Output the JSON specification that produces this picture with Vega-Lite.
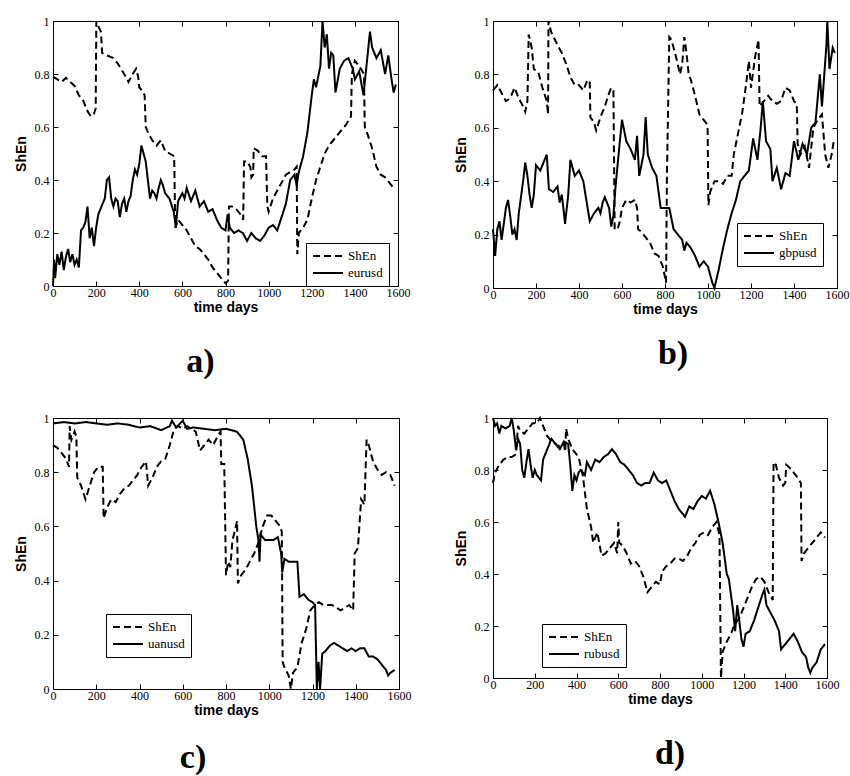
{
  "$schema": "https://vega.github.io/schema/vega-lite/v6.json",
  "background": "white",
  "padding": {"left": 13, "top": 14, "right": 0, "bottom": 0},
  "columns": 2,
  "bounds": "flush",
  "spacing": {"row": 130, "column": 94},
  "resolve": {"scale": {"strokeDash": "independent"}, "legend": {"strokeDash": "independent"}},
  "datasets": {
    "a": [
      {"x":0,"y":0.79,"s":"ShEn"},{"x":20,"y":0.78,"s":"ShEn"},{"x":40,"y":0.77,"s":"ShEn"},{"x":60,"y":0.785,"s":"ShEn"},{"x":80,"y":0.77,"s":"ShEn"},{"x":100,"y":0.755,"s":"ShEn"},{"x":120,"y":0.72,"s":"ShEn"},{"x":140,"y":0.7,"s":"ShEn"},{"x":160,"y":0.66,"s":"ShEn"},{"x":175,"y":0.64,"s":"ShEn"},{"x":190,"y":0.65,"s":"ShEn"},{"x":198,"y":0.67,"s":"ShEn"},{"x":201,"y":1.0,"s":"ShEn"},{"x":210,"y":0.98,"s":"ShEn"},{"x":222,"y":0.96,"s":"ShEn"},{"x":228,"y":0.88,"s":"ShEn"},{"x":250,"y":0.87,"s":"ShEn"},{"x":280,"y":0.86,"s":"ShEn"},{"x":300,"y":0.84,"s":"ShEn"},{"x":330,"y":0.8,"s":"ShEn"},{"x":350,"y":0.77,"s":"ShEn"},{"x":370,"y":0.8,"s":"ShEn"},{"x":385,"y":0.82,"s":"ShEn"},{"x":395,"y":0.79,"s":"ShEn"},{"x":400,"y":0.75,"s":"ShEn"},{"x":410,"y":0.74,"s":"ShEn"},{"x":425,"y":0.72,"s":"ShEn"},{"x":430,"y":0.6,"s":"ShEn"},{"x":440,"y":0.58,"s":"ShEn"},{"x":460,"y":0.55,"s":"ShEn"},{"x":480,"y":0.53,"s":"ShEn"},{"x":500,"y":0.55,"s":"ShEn"},{"x":510,"y":0.53,"s":"ShEn"},{"x":520,"y":0.51,"s":"ShEn"},{"x":540,"y":0.5,"s":"ShEn"},{"x":562,"y":0.49,"s":"ShEn"},{"x":567,"y":0.22,"s":"ShEn"},{"x":580,"y":0.25,"s":"ShEn"},{"x":600,"y":0.23,"s":"ShEn"},{"x":620,"y":0.21,"s":"ShEn"},{"x":640,"y":0.18,"s":"ShEn"},{"x":660,"y":0.15,"s":"ShEn"},{"x":680,"y":0.14,"s":"ShEn"},{"x":700,"y":0.12,"s":"ShEn"},{"x":720,"y":0.1,"s":"ShEn"},{"x":740,"y":0.07,"s":"ShEn"},{"x":760,"y":0.05,"s":"ShEn"},{"x":780,"y":0.03,"s":"ShEn"},{"x":800,"y":0.01,"s":"ShEn"},{"x":812,"y":0.02,"s":"ShEn"},{"x":816,"y":0.3,"s":"ShEn"},{"x":830,"y":0.3,"s":"ShEn"},{"x":850,"y":0.29,"s":"ShEn"},{"x":870,"y":0.27,"s":"ShEn"},{"x":882,"y":0.25,"s":"ShEn"},{"x":886,"y":0.47,"s":"ShEn"},{"x":900,"y":0.47,"s":"ShEn"},{"x":915,"y":0.45,"s":"ShEn"},{"x":920,"y":0.41,"s":"ShEn"},{"x":928,"y":0.42,"s":"ShEn"},{"x":931,"y":0.52,"s":"ShEn"},{"x":950,"y":0.51,"s":"ShEn"},{"x":970,"y":0.49,"s":"ShEn"},{"x":988,"y":0.49,"s":"ShEn"},{"x":994,"y":0.3,"s":"ShEn"},{"x":1000,"y":0.28,"s":"ShEn"},{"x":1020,"y":0.33,"s":"ShEn"},{"x":1040,"y":0.36,"s":"ShEn"},{"x":1060,"y":0.39,"s":"ShEn"},{"x":1080,"y":0.42,"s":"ShEn"},{"x":1100,"y":0.43,"s":"ShEn"},{"x":1120,"y":0.44,"s":"ShEn"},{"x":1130,"y":0.45,"s":"ShEn"},{"x":1133,"y":0.12,"s":"ShEn"},{"x":1140,"y":0.2,"s":"ShEn"},{"x":1160,"y":0.22,"s":"ShEn"},{"x":1180,"y":0.25,"s":"ShEn"},{"x":1200,"y":0.33,"s":"ShEn"},{"x":1220,"y":0.4,"s":"ShEn"},{"x":1240,"y":0.45,"s":"ShEn"},{"x":1260,"y":0.5,"s":"ShEn"},{"x":1280,"y":0.53,"s":"ShEn"},{"x":1300,"y":0.55,"s":"ShEn"},{"x":1320,"y":0.57,"s":"ShEn"},{"x":1340,"y":0.59,"s":"ShEn"},{"x":1360,"y":0.61,"s":"ShEn"},{"x":1382,"y":0.64,"s":"ShEn"},{"x":1386,"y":0.8,"s":"ShEn"},{"x":1400,"y":0.85,"s":"ShEn"},{"x":1420,"y":0.83,"s":"ShEn"},{"x":1442,"y":0.8,"s":"ShEn"},{"x":1446,"y":0.6,"s":"ShEn"},{"x":1460,"y":0.57,"s":"ShEn"},{"x":1480,"y":0.52,"s":"ShEn"},{"x":1500,"y":0.45,"s":"ShEn"},{"x":1520,"y":0.42,"s":"ShEn"},{"x":1540,"y":0.41,"s":"ShEn"},{"x":1560,"y":0.39,"s":"ShEn"},{"x":1580,"y":0.37,"s":"ShEn"},
      {"x":0,"y":0.0,"s":"eurusd"},{"x":5,"y":0.1,"s":"eurusd"},{"x":10,"y":0.03,"s":"eurusd"},{"x":20,"y":0.12,"s":"eurusd"},{"x":30,"y":0.08,"s":"eurusd"},{"x":40,"y":0.13,"s":"eurusd"},{"x":50,"y":0.06,"s":"eurusd"},{"x":60,"y":0.11,"s":"eurusd"},{"x":70,"y":0.14,"s":"eurusd"},{"x":80,"y":0.09,"s":"eurusd"},{"x":90,"y":0.12,"s":"eurusd"},{"x":100,"y":0.08,"s":"eurusd"},{"x":110,"y":0.1,"s":"eurusd"},{"x":120,"y":0.07,"s":"eurusd"},{"x":130,"y":0.21,"s":"eurusd"},{"x":140,"y":0.22,"s":"eurusd"},{"x":150,"y":0.24,"s":"eurusd"},{"x":160,"y":0.3,"s":"eurusd"},{"x":170,"y":0.18,"s":"eurusd"},{"x":180,"y":0.22,"s":"eurusd"},{"x":190,"y":0.15,"s":"eurusd"},{"x":200,"y":0.22,"s":"eurusd"},{"x":210,"y":0.27,"s":"eurusd"},{"x":220,"y":0.29,"s":"eurusd"},{"x":240,"y":0.33,"s":"eurusd"},{"x":250,"y":0.4,"s":"eurusd"},{"x":260,"y":0.41,"s":"eurusd"},{"x":270,"y":0.33,"s":"eurusd"},{"x":280,"y":0.3,"s":"eurusd"},{"x":290,"y":0.33,"s":"eurusd"},{"x":300,"y":0.32,"s":"eurusd"},{"x":310,"y":0.26,"s":"eurusd"},{"x":320,"y":0.31,"s":"eurusd"},{"x":330,"y":0.33,"s":"eurusd"},{"x":340,"y":0.28,"s":"eurusd"},{"x":350,"y":0.32,"s":"eurusd"},{"x":360,"y":0.34,"s":"eurusd"},{"x":370,"y":0.4,"s":"eurusd"},{"x":380,"y":0.44,"s":"eurusd"},{"x":390,"y":0.42,"s":"eurusd"},{"x":400,"y":0.46,"s":"eurusd"},{"x":410,"y":0.53,"s":"eurusd"},{"x":420,"y":0.5,"s":"eurusd"},{"x":430,"y":0.47,"s":"eurusd"},{"x":440,"y":0.4,"s":"eurusd"},{"x":450,"y":0.33,"s":"eurusd"},{"x":460,"y":0.36,"s":"eurusd"},{"x":470,"y":0.35,"s":"eurusd"},{"x":480,"y":0.33,"s":"eurusd"},{"x":490,"y":0.37,"s":"eurusd"},{"x":500,"y":0.4,"s":"eurusd"},{"x":510,"y":0.38,"s":"eurusd"},{"x":520,"y":0.35,"s":"eurusd"},{"x":540,"y":0.33,"s":"eurusd"},{"x":560,"y":0.28,"s":"eurusd"},{"x":570,"y":0.22,"s":"eurusd"},{"x":580,"y":0.32,"s":"eurusd"},{"x":600,"y":0.35,"s":"eurusd"},{"x":610,"y":0.33,"s":"eurusd"},{"x":620,"y":0.37,"s":"eurusd"},{"x":640,"y":0.32,"s":"eurusd"},{"x":650,"y":0.34,"s":"eurusd"},{"x":660,"y":0.36,"s":"eurusd"},{"x":680,"y":0.3,"s":"eurusd"},{"x":700,"y":0.32,"s":"eurusd"},{"x":720,"y":0.28,"s":"eurusd"},{"x":740,"y":0.29,"s":"eurusd"},{"x":760,"y":0.25,"s":"eurusd"},{"x":780,"y":0.22,"s":"eurusd"},{"x":800,"y":0.21,"s":"eurusd"},{"x":810,"y":0.27,"s":"eurusd"},{"x":820,"y":0.22,"s":"eurusd"},{"x":840,"y":0.2,"s":"eurusd"},{"x":860,"y":0.21,"s":"eurusd"},{"x":880,"y":0.2,"s":"eurusd"},{"x":900,"y":0.17,"s":"eurusd"},{"x":920,"y":0.2,"s":"eurusd"},{"x":940,"y":0.18,"s":"eurusd"},{"x":960,"y":0.17,"s":"eurusd"},{"x":980,"y":0.19,"s":"eurusd"},{"x":1000,"y":0.22,"s":"eurusd"},{"x":1020,"y":0.23,"s":"eurusd"},{"x":1040,"y":0.21,"s":"eurusd"},{"x":1060,"y":0.26,"s":"eurusd"},{"x":1080,"y":0.31,"s":"eurusd"},{"x":1100,"y":0.4,"s":"eurusd"},{"x":1120,"y":0.42,"s":"eurusd"},{"x":1130,"y":0.38,"s":"eurusd"},{"x":1140,"y":0.43,"s":"eurusd"},{"x":1160,"y":0.49,"s":"eurusd"},{"x":1180,"y":0.58,"s":"eurusd"},{"x":1200,"y":0.72,"s":"eurusd"},{"x":1210,"y":0.78,"s":"eurusd"},{"x":1220,"y":0.75,"s":"eurusd"},{"x":1240,"y":0.83,"s":"eurusd"},{"x":1250,"y":1.0,"s":"eurusd"},{"x":1260,"y":0.9,"s":"eurusd"},{"x":1270,"y":0.95,"s":"eurusd"},{"x":1280,"y":0.82,"s":"eurusd"},{"x":1290,"y":0.88,"s":"eurusd"},{"x":1300,"y":0.87,"s":"eurusd"},{"x":1310,"y":0.73,"s":"eurusd"},{"x":1330,"y":0.82,"s":"eurusd"},{"x":1350,"y":0.85,"s":"eurusd"},{"x":1370,"y":0.86,"s":"eurusd"},{"x":1390,"y":0.82,"s":"eurusd"},{"x":1400,"y":0.78,"s":"eurusd"},{"x":1420,"y":0.81,"s":"eurusd"},{"x":1440,"y":0.72,"s":"eurusd"},{"x":1460,"y":0.88,"s":"eurusd"},{"x":1470,"y":0.96,"s":"eurusd"},{"x":1480,"y":0.9,"s":"eurusd"},{"x":1500,"y":0.86,"s":"eurusd"},{"x":1520,"y":0.89,"s":"eurusd"},{"x":1540,"y":0.8,"s":"eurusd"},{"x":1555,"y":0.87,"s":"eurusd"},{"x":1570,"y":0.78,"s":"eurusd"},{"x":1580,"y":0.73,"s":"eurusd"},{"x":1590,"y":0.76,"s":"eurusd"}
    ],
    "b": [
      {"x":0,"y":0.74,"s":"ShEn"},{"x":20,"y":0.76,"s":"ShEn"},{"x":40,"y":0.73,"s":"ShEn"},{"x":60,"y":0.7,"s":"ShEn"},{"x":80,"y":0.71,"s":"ShEn"},{"x":100,"y":0.75,"s":"ShEn"},{"x":120,"y":0.71,"s":"ShEn"},{"x":140,"y":0.68,"s":"ShEn"},{"x":150,"y":0.66,"s":"ShEn"},{"x":160,"y":0.7,"s":"ShEn"},{"x":166,"y":0.95,"s":"ShEn"},{"x":180,"y":0.9,"s":"ShEn"},{"x":190,"y":0.82,"s":"ShEn"},{"x":210,"y":0.81,"s":"ShEn"},{"x":230,"y":0.75,"s":"ShEn"},{"x":250,"y":0.7,"s":"ShEn"},{"x":256,"y":0.65,"s":"ShEn"},{"x":258,"y":1.0,"s":"ShEn"},{"x":270,"y":0.96,"s":"ShEn"},{"x":300,"y":0.91,"s":"ShEn"},{"x":320,"y":0.88,"s":"ShEn"},{"x":340,"y":0.84,"s":"ShEn"},{"x":360,"y":0.79,"s":"ShEn"},{"x":380,"y":0.76,"s":"ShEn"},{"x":400,"y":0.76,"s":"ShEn"},{"x":420,"y":0.74,"s":"ShEn"},{"x":440,"y":0.78,"s":"ShEn"},{"x":450,"y":0.77,"s":"ShEn"},{"x":453,"y":0.64,"s":"ShEn"},{"x":470,"y":0.62,"s":"ShEn"},{"x":480,"y":0.59,"s":"ShEn"},{"x":500,"y":0.64,"s":"ShEn"},{"x":520,"y":0.68,"s":"ShEn"},{"x":540,"y":0.73,"s":"ShEn"},{"x":550,"y":0.75,"s":"ShEn"},{"x":560,"y":0.74,"s":"ShEn"},{"x":566,"y":0.22,"s":"ShEn"},{"x":580,"y":0.22,"s":"ShEn"},{"x":590,"y":0.25,"s":"ShEn"},{"x":600,"y":0.3,"s":"ShEn"},{"x":620,"y":0.33,"s":"ShEn"},{"x":640,"y":0.32,"s":"ShEn"},{"x":660,"y":0.33,"s":"ShEn"},{"x":670,"y":0.3,"s":"ShEn"},{"x":675,"y":0.22,"s":"ShEn"},{"x":690,"y":0.21,"s":"ShEn"},{"x":710,"y":0.19,"s":"ShEn"},{"x":730,"y":0.17,"s":"ShEn"},{"x":750,"y":0.13,"s":"ShEn"},{"x":770,"y":0.12,"s":"ShEn"},{"x":790,"y":0.08,"s":"ShEn"},{"x":805,"y":0.02,"s":"ShEn"},{"x":809,"y":0.42,"s":"ShEn"},{"x":820,"y":0.94,"s":"ShEn"},{"x":830,"y":0.93,"s":"ShEn"},{"x":850,"y":0.87,"s":"ShEn"},{"x":870,"y":0.8,"s":"ShEn"},{"x":880,"y":0.84,"s":"ShEn"},{"x":890,"y":0.94,"s":"ShEn"},{"x":900,"y":0.88,"s":"ShEn"},{"x":910,"y":0.8,"s":"ShEn"},{"x":920,"y":0.78,"s":"ShEn"},{"x":940,"y":0.72,"s":"ShEn"},{"x":960,"y":0.65,"s":"ShEn"},{"x":980,"y":0.63,"s":"ShEn"},{"x":998,"y":0.61,"s":"ShEn"},{"x":1002,"y":0.31,"s":"ShEn"},{"x":1010,"y":0.36,"s":"ShEn"},{"x":1030,"y":0.4,"s":"ShEn"},{"x":1050,"y":0.4,"s":"ShEn"},{"x":1070,"y":0.39,"s":"ShEn"},{"x":1090,"y":0.42,"s":"ShEn"},{"x":1110,"y":0.42,"s":"ShEn"},{"x":1120,"y":0.5,"s":"ShEn"},{"x":1140,"y":0.58,"s":"ShEn"},{"x":1160,"y":0.66,"s":"ShEn"},{"x":1180,"y":0.78,"s":"ShEn"},{"x":1190,"y":0.85,"s":"ShEn"},{"x":1200,"y":0.75,"s":"ShEn"},{"x":1220,"y":0.87,"s":"ShEn"},{"x":1235,"y":0.93,"s":"ShEn"},{"x":1240,"y":0.68,"s":"ShEn"},{"x":1260,"y":0.7,"s":"ShEn"},{"x":1280,"y":0.72,"s":"ShEn"},{"x":1300,"y":0.7,"s":"ShEn"},{"x":1320,"y":0.69,"s":"ShEn"},{"x":1340,"y":0.7,"s":"ShEn"},{"x":1360,"y":0.75,"s":"ShEn"},{"x":1380,"y":0.74,"s":"ShEn"},{"x":1400,"y":0.7,"s":"ShEn"},{"x":1413,"y":0.69,"s":"ShEn"},{"x":1417,"y":0.54,"s":"ShEn"},{"x":1430,"y":0.5,"s":"ShEn"},{"x":1450,"y":0.53,"s":"ShEn"},{"x":1470,"y":0.45,"s":"ShEn"},{"x":1490,"y":0.6,"s":"ShEn"},{"x":1510,"y":0.63,"s":"ShEn"},{"x":1530,"y":0.65,"s":"ShEn"},{"x":1545,"y":0.5,"s":"ShEn"},{"x":1560,"y":0.45,"s":"ShEn"},{"x":1575,"y":0.5,"s":"ShEn"},{"x":1585,"y":0.55,"s":"ShEn"},
      {"x":0,"y":0.22,"s":"gbpusd"},{"x":10,"y":0.12,"s":"gbpusd"},{"x":20,"y":0.22,"s":"gbpusd"},{"x":30,"y":0.25,"s":"gbpusd"},{"x":40,"y":0.18,"s":"gbpusd"},{"x":60,"y":0.3,"s":"gbpusd"},{"x":70,"y":0.33,"s":"gbpusd"},{"x":80,"y":0.27,"s":"gbpusd"},{"x":90,"y":0.2,"s":"gbpusd"},{"x":100,"y":0.22,"s":"gbpusd"},{"x":110,"y":0.18,"s":"gbpusd"},{"x":120,"y":0.28,"s":"gbpusd"},{"x":140,"y":0.4,"s":"gbpusd"},{"x":150,"y":0.47,"s":"gbpusd"},{"x":160,"y":0.42,"s":"gbpusd"},{"x":170,"y":0.35,"s":"gbpusd"},{"x":180,"y":0.3,"s":"gbpusd"},{"x":190,"y":0.35,"s":"gbpusd"},{"x":200,"y":0.46,"s":"gbpusd"},{"x":220,"y":0.44,"s":"gbpusd"},{"x":240,"y":0.48,"s":"gbpusd"},{"x":250,"y":0.5,"s":"gbpusd"},{"x":260,"y":0.37,"s":"gbpusd"},{"x":280,"y":0.36,"s":"gbpusd"},{"x":300,"y":0.38,"s":"gbpusd"},{"x":310,"y":0.32,"s":"gbpusd"},{"x":320,"y":0.35,"s":"gbpusd"},{"x":330,"y":0.28,"s":"gbpusd"},{"x":335,"y":0.24,"s":"gbpusd"},{"x":350,"y":0.35,"s":"gbpusd"},{"x":360,"y":0.48,"s":"gbpusd"},{"x":380,"y":0.42,"s":"gbpusd"},{"x":400,"y":0.44,"s":"gbpusd"},{"x":420,"y":0.4,"s":"gbpusd"},{"x":430,"y":0.35,"s":"gbpusd"},{"x":450,"y":0.25,"s":"gbpusd"},{"x":470,"y":0.28,"s":"gbpusd"},{"x":490,"y":0.3,"s":"gbpusd"},{"x":500,"y":0.28,"s":"gbpusd"},{"x":510,"y":0.32,"s":"gbpusd"},{"x":520,"y":0.34,"s":"gbpusd"},{"x":540,"y":0.3,"s":"gbpusd"},{"x":550,"y":0.23,"s":"gbpusd"},{"x":560,"y":0.27,"s":"gbpusd"},{"x":570,"y":0.38,"s":"gbpusd"},{"x":590,"y":0.55,"s":"gbpusd"},{"x":600,"y":0.63,"s":"gbpusd"},{"x":620,"y":0.55,"s":"gbpusd"},{"x":640,"y":0.52,"s":"gbpusd"},{"x":660,"y":0.48,"s":"gbpusd"},{"x":670,"y":0.57,"s":"gbpusd"},{"x":680,"y":0.42,"s":"gbpusd"},{"x":700,"y":0.5,"s":"gbpusd"},{"x":710,"y":0.64,"s":"gbpusd"},{"x":720,"y":0.5,"s":"gbpusd"},{"x":740,"y":0.45,"s":"gbpusd"},{"x":760,"y":0.42,"s":"gbpusd"},{"x":780,"y":0.3,"s":"gbpusd"},{"x":800,"y":0.3,"s":"gbpusd"},{"x":820,"y":0.3,"s":"gbpusd"},{"x":840,"y":0.22,"s":"gbpusd"},{"x":860,"y":0.2,"s":"gbpusd"},{"x":880,"y":0.18,"s":"gbpusd"},{"x":890,"y":0.14,"s":"gbpusd"},{"x":900,"y":0.17,"s":"gbpusd"},{"x":920,"y":0.15,"s":"gbpusd"},{"x":940,"y":0.12,"s":"gbpusd"},{"x":960,"y":0.08,"s":"gbpusd"},{"x":980,"y":0.1,"s":"gbpusd"},{"x":1000,"y":0.08,"s":"gbpusd"},{"x":1020,"y":0.02,"s":"gbpusd"},{"x":1030,"y":0.0,"s":"gbpusd"},{"x":1050,"y":0.07,"s":"gbpusd"},{"x":1070,"y":0.15,"s":"gbpusd"},{"x":1090,"y":0.22,"s":"gbpusd"},{"x":1110,"y":0.28,"s":"gbpusd"},{"x":1130,"y":0.33,"s":"gbpusd"},{"x":1150,"y":0.4,"s":"gbpusd"},{"x":1170,"y":0.42,"s":"gbpusd"},{"x":1190,"y":0.44,"s":"gbpusd"},{"x":1210,"y":0.56,"s":"gbpusd"},{"x":1230,"y":0.48,"s":"gbpusd"},{"x":1245,"y":0.6,"s":"gbpusd"},{"x":1255,"y":0.7,"s":"gbpusd"},{"x":1270,"y":0.55,"s":"gbpusd"},{"x":1290,"y":0.52,"s":"gbpusd"},{"x":1300,"y":0.4,"s":"gbpusd"},{"x":1320,"y":0.45,"s":"gbpusd"},{"x":1340,"y":0.37,"s":"gbpusd"},{"x":1360,"y":0.43,"s":"gbpusd"},{"x":1380,"y":0.42,"s":"gbpusd"},{"x":1400,"y":0.55,"s":"gbpusd"},{"x":1420,"y":0.48,"s":"gbpusd"},{"x":1440,"y":0.54,"s":"gbpusd"},{"x":1460,"y":0.5,"s":"gbpusd"},{"x":1480,"y":0.6,"s":"gbpusd"},{"x":1500,"y":0.62,"s":"gbpusd"},{"x":1520,"y":0.8,"s":"gbpusd"},{"x":1530,"y":0.68,"s":"gbpusd"},{"x":1550,"y":0.9,"s":"gbpusd"},{"x":1555,"y":1.0,"s":"gbpusd"},{"x":1565,"y":0.82,"s":"gbpusd"},{"x":1580,"y":0.9,"s":"gbpusd"},{"x":1590,"y":0.88,"s":"gbpusd"}
    ],
    "c": [
      {"x":0,"y":0.9,"s":"ShEn"},{"x":20,"y":0.89,"s":"ShEn"},{"x":40,"y":0.87,"s":"ShEn"},{"x":60,"y":0.85,"s":"ShEn"},{"x":74,"y":0.82,"s":"ShEn"},{"x":77,"y":0.97,"s":"ShEn"},{"x":85,"y":0.92,"s":"ShEn"},{"x":100,"y":0.95,"s":"ShEn"},{"x":108,"y":0.93,"s":"ShEn"},{"x":112,"y":0.78,"s":"ShEn"},{"x":130,"y":0.75,"s":"ShEn"},{"x":150,"y":0.7,"s":"ShEn"},{"x":170,"y":0.75,"s":"ShEn"},{"x":190,"y":0.8,"s":"ShEn"},{"x":210,"y":0.82,"s":"ShEn"},{"x":230,"y":0.82,"s":"ShEn"},{"x":234,"y":0.63,"s":"ShEn"},{"x":250,"y":0.67,"s":"ShEn"},{"x":270,"y":0.7,"s":"ShEn"},{"x":290,"y":0.69,"s":"ShEn"},{"x":310,"y":0.72,"s":"ShEn"},{"x":330,"y":0.74,"s":"ShEn"},{"x":350,"y":0.75,"s":"ShEn"},{"x":370,"y":0.77,"s":"ShEn"},{"x":390,"y":0.79,"s":"ShEn"},{"x":410,"y":0.82,"s":"ShEn"},{"x":430,"y":0.84,"s":"ShEn"},{"x":440,"y":0.75,"s":"ShEn"},{"x":460,"y":0.78,"s":"ShEn"},{"x":480,"y":0.82,"s":"ShEn"},{"x":500,"y":0.84,"s":"ShEn"},{"x":520,"y":0.85,"s":"ShEn"},{"x":540,"y":0.9,"s":"ShEn"},{"x":560,"y":0.96,"s":"ShEn"},{"x":580,"y":0.97,"s":"ShEn"},{"x":600,"y":0.96,"s":"ShEn"},{"x":620,"y":0.97,"s":"ShEn"},{"x":640,"y":0.96,"s":"ShEn"},{"x":660,"y":0.95,"s":"ShEn"},{"x":680,"y":0.88,"s":"ShEn"},{"x":700,"y":0.9,"s":"ShEn"},{"x":720,"y":0.92,"s":"ShEn"},{"x":740,"y":0.9,"s":"ShEn"},{"x":760,"y":0.93,"s":"ShEn"},{"x":775,"y":0.95,"s":"ShEn"},{"x":778,"y":0.83,"s":"ShEn"},{"x":792,"y":0.83,"s":"ShEn"},{"x":800,"y":0.42,"s":"ShEn"},{"x":810,"y":0.47,"s":"ShEn"},{"x":820,"y":0.45,"s":"ShEn"},{"x":830,"y":0.55,"s":"ShEn"},{"x":840,"y":0.58,"s":"ShEn"},{"x":851,"y":0.62,"s":"ShEn"},{"x":855,"y":0.39,"s":"ShEn"},{"x":870,"y":0.42,"s":"ShEn"},{"x":890,"y":0.44,"s":"ShEn"},{"x":910,"y":0.47,"s":"ShEn"},{"x":930,"y":0.5,"s":"ShEn"},{"x":950,"y":0.54,"s":"ShEn"},{"x":970,"y":0.6,"s":"ShEn"},{"x":990,"y":0.64,"s":"ShEn"},{"x":1010,"y":0.64,"s":"ShEn"},{"x":1030,"y":0.62,"s":"ShEn"},{"x":1050,"y":0.6,"s":"ShEn"},{"x":1058,"y":0.58,"s":"ShEn"},{"x":1062,"y":0.1,"s":"ShEn"},{"x":1070,"y":0.08,"s":"ShEn"},{"x":1090,"y":0.05,"s":"ShEn"},{"x":1100,"y":0.0,"s":"ShEn"},{"x":1110,"y":0.06,"s":"ShEn"},{"x":1130,"y":0.08,"s":"ShEn"},{"x":1150,"y":0.17,"s":"ShEn"},{"x":1170,"y":0.22,"s":"ShEn"},{"x":1190,"y":0.29,"s":"ShEn"},{"x":1210,"y":0.31,"s":"ShEn"},{"x":1230,"y":0.32,"s":"ShEn"},{"x":1250,"y":0.31,"s":"ShEn"},{"x":1270,"y":0.31,"s":"ShEn"},{"x":1290,"y":0.31,"s":"ShEn"},{"x":1310,"y":0.3,"s":"ShEn"},{"x":1330,"y":0.29,"s":"ShEn"},{"x":1350,"y":0.3,"s":"ShEn"},{"x":1370,"y":0.31,"s":"ShEn"},{"x":1388,"y":0.29,"s":"ShEn"},{"x":1395,"y":0.5,"s":"ShEn"},{"x":1410,"y":0.52,"s":"ShEn"},{"x":1425,"y":0.7,"s":"ShEn"},{"x":1440,"y":0.68,"s":"ShEn"},{"x":1450,"y":0.92,"s":"ShEn"},{"x":1460,"y":0.9,"s":"ShEn"},{"x":1480,"y":0.84,"s":"ShEn"},{"x":1500,"y":0.81,"s":"ShEn"},{"x":1520,"y":0.79,"s":"ShEn"},{"x":1540,"y":0.8,"s":"ShEn"},{"x":1560,"y":0.79,"s":"ShEn"},{"x":1580,"y":0.75,"s":"ShEn"},
      {"x":0,"y":0.98,"s":"uanusd"},{"x":50,"y":0.985,"s":"uanusd"},{"x":100,"y":0.98,"s":"uanusd"},{"x":150,"y":0.985,"s":"uanusd"},{"x":200,"y":0.98,"s":"uanusd"},{"x":250,"y":0.975,"s":"uanusd"},{"x":300,"y":0.98,"s":"uanusd"},{"x":350,"y":0.975,"s":"uanusd"},{"x":400,"y":0.965,"s":"uanusd"},{"x":450,"y":0.97,"s":"uanusd"},{"x":500,"y":0.955,"s":"uanusd"},{"x":540,"y":0.97,"s":"uanusd"},{"x":550,"y":0.99,"s":"uanusd"},{"x":570,"y":0.965,"s":"uanusd"},{"x":600,"y":0.99,"s":"uanusd"},{"x":620,"y":0.96,"s":"uanusd"},{"x":650,"y":0.965,"s":"uanusd"},{"x":700,"y":0.96,"s":"uanusd"},{"x":750,"y":0.955,"s":"uanusd"},{"x":800,"y":0.96,"s":"uanusd"},{"x":850,"y":0.95,"s":"uanusd"},{"x":880,"y":0.92,"s":"uanusd"},{"x":900,"y":0.85,"s":"uanusd"},{"x":920,"y":0.75,"s":"uanusd"},{"x":940,"y":0.6,"s":"uanusd"},{"x":950,"y":0.55,"s":"uanusd"},{"x":955,"y":0.47,"s":"uanusd"},{"x":960,"y":0.57,"s":"uanusd"},{"x":980,"y":0.55,"s":"uanusd"},{"x":1000,"y":0.55,"s":"uanusd"},{"x":1020,"y":0.55,"s":"uanusd"},{"x":1040,"y":0.56,"s":"uanusd"},{"x":1055,"y":0.5,"s":"uanusd"},{"x":1060,"y":0.43,"s":"uanusd"},{"x":1070,"y":0.48,"s":"uanusd"},{"x":1090,"y":0.47,"s":"uanusd"},{"x":1110,"y":0.47,"s":"uanusd"},{"x":1130,"y":0.47,"s":"uanusd"},{"x":1140,"y":0.34,"s":"uanusd"},{"x":1160,"y":0.35,"s":"uanusd"},{"x":1180,"y":0.33,"s":"uanusd"},{"x":1200,"y":0.32,"s":"uanusd"},{"x":1212,"y":0.31,"s":"uanusd"},{"x":1220,"y":0.0,"s":"uanusd"},{"x":1228,"y":0.1,"s":"uanusd"},{"x":1235,"y":0.0,"s":"uanusd"},{"x":1245,"y":0.13,"s":"uanusd"},{"x":1260,"y":0.14,"s":"uanusd"},{"x":1280,"y":0.16,"s":"uanusd"},{"x":1300,"y":0.17,"s":"uanusd"},{"x":1320,"y":0.16,"s":"uanusd"},{"x":1340,"y":0.15,"s":"uanusd"},{"x":1360,"y":0.14,"s":"uanusd"},{"x":1380,"y":0.15,"s":"uanusd"},{"x":1400,"y":0.14,"s":"uanusd"},{"x":1420,"y":0.15,"s":"uanusd"},{"x":1440,"y":0.15,"s":"uanusd"},{"x":1460,"y":0.12,"s":"uanusd"},{"x":1480,"y":0.12,"s":"uanusd"},{"x":1500,"y":0.11,"s":"uanusd"},{"x":1520,"y":0.09,"s":"uanusd"},{"x":1540,"y":0.07,"s":"uanusd"},{"x":1550,"y":0.05,"s":"uanusd"},{"x":1560,"y":0.06,"s":"uanusd"},{"x":1580,"y":0.07,"s":"uanusd"}
    ],
    "d": [
      {"x":0,"y":0.75,"s":"ShEn"},{"x":10,"y":0.79,"s":"ShEn"},{"x":30,"y":0.82,"s":"ShEn"},{"x":50,"y":0.84,"s":"ShEn"},{"x":70,"y":0.85,"s":"ShEn"},{"x":90,"y":0.85,"s":"ShEn"},{"x":110,"y":0.86,"s":"ShEn"},{"x":120,"y":0.97,"s":"ShEn"},{"x":130,"y":0.95,"s":"ShEn"},{"x":150,"y":0.94,"s":"ShEn"},{"x":170,"y":0.96,"s":"ShEn"},{"x":190,"y":0.98,"s":"ShEn"},{"x":210,"y":0.98,"s":"ShEn"},{"x":225,"y":1.0,"s":"ShEn"},{"x":240,"y":0.97,"s":"ShEn"},{"x":260,"y":0.93,"s":"ShEn"},{"x":280,"y":0.91,"s":"ShEn"},{"x":300,"y":0.9,"s":"ShEn"},{"x":320,"y":0.89,"s":"ShEn"},{"x":340,"y":0.9,"s":"ShEn"},{"x":346,"y":0.87,"s":"ShEn"},{"x":350,"y":0.96,"s":"ShEn"},{"x":360,"y":0.92,"s":"ShEn"},{"x":380,"y":0.88,"s":"ShEn"},{"x":400,"y":0.86,"s":"ShEn"},{"x":410,"y":0.85,"s":"ShEn"},{"x":430,"y":0.78,"s":"ShEn"},{"x":450,"y":0.65,"s":"ShEn"},{"x":470,"y":0.58,"s":"ShEn"},{"x":480,"y":0.52,"s":"ShEn"},{"x":500,"y":0.56,"s":"ShEn"},{"x":520,"y":0.47,"s":"ShEn"},{"x":540,"y":0.48,"s":"ShEn"},{"x":560,"y":0.5,"s":"ShEn"},{"x":580,"y":0.52,"s":"ShEn"},{"x":595,"y":0.48,"s":"ShEn"},{"x":600,"y":0.6,"s":"ShEn"},{"x":605,"y":0.52,"s":"ShEn"},{"x":620,"y":0.51,"s":"ShEn"},{"x":640,"y":0.48,"s":"ShEn"},{"x":660,"y":0.44,"s":"ShEn"},{"x":680,"y":0.45,"s":"ShEn"},{"x":700,"y":0.43,"s":"ShEn"},{"x":720,"y":0.39,"s":"ShEn"},{"x":740,"y":0.33,"s":"ShEn"},{"x":760,"y":0.35,"s":"ShEn"},{"x":780,"y":0.37,"s":"ShEn"},{"x":800,"y":0.36,"s":"ShEn"},{"x":810,"y":0.41,"s":"ShEn"},{"x":830,"y":0.43,"s":"ShEn"},{"x":850,"y":0.44,"s":"ShEn"},{"x":870,"y":0.46,"s":"ShEn"},{"x":890,"y":0.46,"s":"ShEn"},{"x":910,"y":0.45,"s":"ShEn"},{"x":930,"y":0.47,"s":"ShEn"},{"x":950,"y":0.5,"s":"ShEn"},{"x":970,"y":0.52,"s":"ShEn"},{"x":990,"y":0.55,"s":"ShEn"},{"x":1010,"y":0.56,"s":"ShEn"},{"x":1030,"y":0.55,"s":"ShEn"},{"x":1050,"y":0.58,"s":"ShEn"},{"x":1070,"y":0.6,"s":"ShEn"},{"x":1085,"y":0.55,"s":"ShEn"},{"x":1092,"y":0.0,"s":"ShEn"},{"x":1100,"y":0.1,"s":"ShEn"},{"x":1120,"y":0.14,"s":"ShEn"},{"x":1140,"y":0.17,"s":"ShEn"},{"x":1160,"y":0.21,"s":"ShEn"},{"x":1180,"y":0.23,"s":"ShEn"},{"x":1200,"y":0.27,"s":"ShEn"},{"x":1220,"y":0.31,"s":"ShEn"},{"x":1240,"y":0.35,"s":"ShEn"},{"x":1260,"y":0.38,"s":"ShEn"},{"x":1280,"y":0.39,"s":"ShEn"},{"x":1300,"y":0.37,"s":"ShEn"},{"x":1320,"y":0.33,"s":"ShEn"},{"x":1340,"y":0.3,"s":"ShEn"},{"x":1344,"y":0.83,"s":"ShEn"},{"x":1355,"y":0.82,"s":"ShEn"},{"x":1370,"y":0.77,"s":"ShEn"},{"x":1390,"y":0.74,"s":"ShEn"},{"x":1400,"y":0.75,"s":"ShEn"},{"x":1405,"y":0.82,"s":"ShEn"},{"x":1420,"y":0.81,"s":"ShEn"},{"x":1440,"y":0.79,"s":"ShEn"},{"x":1460,"y":0.77,"s":"ShEn"},{"x":1475,"y":0.75,"s":"ShEn"},{"x":1478,"y":0.45,"s":"ShEn"},{"x":1490,"y":0.48,"s":"ShEn"},{"x":1510,"y":0.5,"s":"ShEn"},{"x":1530,"y":0.52,"s":"ShEn"},{"x":1550,"y":0.54,"s":"ShEn"},{"x":1570,"y":0.56,"s":"ShEn"},{"x":1590,"y":0.54,"s":"ShEn"},
      {"x":0,"y":1.0,"s":"rubusd"},{"x":10,"y":0.97,"s":"rubusd"},{"x":20,"y":0.98,"s":"rubusd"},{"x":30,"y":0.94,"s":"rubusd"},{"x":40,"y":0.97,"s":"rubusd"},{"x":60,"y":0.96,"s":"rubusd"},{"x":80,"y":0.97,"s":"rubusd"},{"x":90,"y":1.0,"s":"rubusd"},{"x":100,"y":0.95,"s":"rubusd"},{"x":110,"y":0.88,"s":"rubusd"},{"x":120,"y":0.92,"s":"rubusd"},{"x":130,"y":0.9,"s":"rubusd"},{"x":140,"y":0.8,"s":"rubusd"},{"x":150,"y":0.77,"s":"rubusd"},{"x":160,"y":0.83,"s":"rubusd"},{"x":170,"y":0.88,"s":"rubusd"},{"x":180,"y":0.82,"s":"rubusd"},{"x":190,"y":0.77,"s":"rubusd"},{"x":200,"y":0.8,"s":"rubusd"},{"x":210,"y":0.78,"s":"rubusd"},{"x":230,"y":0.76,"s":"rubusd"},{"x":240,"y":0.84,"s":"rubusd"},{"x":260,"y":0.88,"s":"rubusd"},{"x":280,"y":0.92,"s":"rubusd"},{"x":300,"y":0.9,"s":"rubusd"},{"x":320,"y":0.88,"s":"rubusd"},{"x":340,"y":0.91,"s":"rubusd"},{"x":360,"y":0.9,"s":"rubusd"},{"x":370,"y":0.82,"s":"rubusd"},{"x":380,"y":0.72,"s":"rubusd"},{"x":390,"y":0.78,"s":"rubusd"},{"x":400,"y":0.76,"s":"rubusd"},{"x":410,"y":0.79,"s":"rubusd"},{"x":420,"y":0.8,"s":"rubusd"},{"x":440,"y":0.78,"s":"rubusd"},{"x":450,"y":0.83,"s":"rubusd"},{"x":470,"y":0.8,"s":"rubusd"},{"x":490,"y":0.84,"s":"rubusd"},{"x":510,"y":0.83,"s":"rubusd"},{"x":530,"y":0.85,"s":"rubusd"},{"x":550,"y":0.86,"s":"rubusd"},{"x":570,"y":0.88,"s":"rubusd"},{"x":590,"y":0.86,"s":"rubusd"},{"x":610,"y":0.83,"s":"rubusd"},{"x":630,"y":0.82,"s":"rubusd"},{"x":650,"y":0.8,"s":"rubusd"},{"x":670,"y":0.78,"s":"rubusd"},{"x":690,"y":0.75,"s":"rubusd"},{"x":710,"y":0.74,"s":"rubusd"},{"x":730,"y":0.75,"s":"rubusd"},{"x":750,"y":0.75,"s":"rubusd"},{"x":770,"y":0.79,"s":"rubusd"},{"x":790,"y":0.76,"s":"rubusd"},{"x":810,"y":0.75,"s":"rubusd"},{"x":830,"y":0.76,"s":"rubusd"},{"x":850,"y":0.72,"s":"rubusd"},{"x":870,"y":0.68,"s":"rubusd"},{"x":890,"y":0.65,"s":"rubusd"},{"x":910,"y":0.63,"s":"rubusd"},{"x":920,"y":0.62,"s":"rubusd"},{"x":940,"y":0.66,"s":"rubusd"},{"x":960,"y":0.65,"s":"rubusd"},{"x":980,"y":0.68,"s":"rubusd"},{"x":1000,"y":0.7,"s":"rubusd"},{"x":1020,"y":0.69,"s":"rubusd"},{"x":1040,"y":0.72,"s":"rubusd"},{"x":1060,"y":0.67,"s":"rubusd"},{"x":1080,"y":0.6,"s":"rubusd"},{"x":1100,"y":0.52,"s":"rubusd"},{"x":1120,"y":0.4,"s":"rubusd"},{"x":1130,"y":0.38,"s":"rubusd"},{"x":1150,"y":0.26,"s":"rubusd"},{"x":1160,"y":0.18,"s":"rubusd"},{"x":1170,"y":0.28,"s":"rubusd"},{"x":1180,"y":0.22,"s":"rubusd"},{"x":1190,"y":0.15,"s":"rubusd"},{"x":1200,"y":0.12,"s":"rubusd"},{"x":1210,"y":0.17,"s":"rubusd"},{"x":1230,"y":0.18,"s":"rubusd"},{"x":1250,"y":0.22,"s":"rubusd"},{"x":1270,"y":0.27,"s":"rubusd"},{"x":1290,"y":0.32,"s":"rubusd"},{"x":1300,"y":0.34,"s":"rubusd"},{"x":1310,"y":0.28,"s":"rubusd"},{"x":1330,"y":0.25,"s":"rubusd"},{"x":1350,"y":0.22,"s":"rubusd"},{"x":1370,"y":0.18,"s":"rubusd"},{"x":1380,"y":0.11,"s":"rubusd"},{"x":1400,"y":0.13,"s":"rubusd"},{"x":1420,"y":0.15,"s":"rubusd"},{"x":1440,"y":0.17,"s":"rubusd"},{"x":1460,"y":0.14,"s":"rubusd"},{"x":1480,"y":0.1,"s":"rubusd"},{"x":1500,"y":0.08,"s":"rubusd"},{"x":1510,"y":0.04,"s":"rubusd"},{"x":1520,"y":0.02,"s":"rubusd"},{"x":1530,"y":0.04,"s":"rubusd"},{"x":1550,"y":0.06,"s":"rubusd"},{"x":1570,"y":0.11,"s":"rubusd"},{"x":1590,"y":0.13,"s":"rubusd"}
    ]
  },
  "concat": [
    {
      "width": 345, "height": 265,
      "data": {"name": "a"},
      "title": {"text": "a)", "dx": -25, "offset": 31},
      "layer": [
        {
          "mark": {"type": "line", "color": "black", "strokeWidth": 2},
          "encoding": {
            "x": {"field": "x", "type": "quantitative", "scale": {"domain": [0, 1600], "nice": false}, "axis": {"title": "time days", "values": [0,200,400,600,800,1000,1200,1400,1600], "format": "d"}},
            "y": {"field": "y", "type": "quantitative", "scale": {"domain": [0, 1], "nice": false}, "axis": {"title": "ShEn", "values": [0,0.2,0.4,0.6,0.8,1], "format": ".1~f"}},
            "strokeDash": {"field": "s", "type": "nominal", "scale": {"domain": ["ShEn", "eurusd"], "range": [[7,4],[1,0]]}, "legend": {"legendX": 253, "legendY": 222}}
          }
        },
        {
          "mark": {"type": "line", "opacity": 0},
          "encoding": {
            "x": {"field": "x", "type": "quantitative", "axis": {"orient": "top", "labels": false, "title": null, "values": [0,200,400,600,800,1000,1200,1400,1600]}},
            "y": {"field": "y", "type": "quantitative", "axis": {"orient": "right", "labels": false, "title": null, "values": [0,0.2,0.4,0.6,0.8,1]}}
          }
        }
      ],
      "resolve": {"axis": {"x": "independent", "y": "independent"}}
    },
    {
      "width": 344, "height": 267,
      "data": {"name": "b"},
      "title": {"text": "b)", "dx": 8, "offset": 21},
      "layer": [
        {
          "mark": {"type": "line", "color": "black", "strokeWidth": 2},
          "encoding": {
            "x": {"field": "x", "type": "quantitative", "scale": {"domain": [0, 1600], "nice": false}, "axis": {"title": "time days", "values": [0,200,400,600,800,1000,1200,1400,1600], "format": "d"}},
            "y": {"field": "y", "type": "quantitative", "scale": {"domain": [0, 1], "nice": false}, "axis": {"title": "ShEn", "values": [0,0.2,0.4,0.6,0.8,1], "format": ".1~f"}},
            "strokeDash": {"field": "s", "type": "nominal", "scale": {"domain": ["ShEn", "gbpusd"], "range": [[7,4],[1,0]]}, "legend": {"legendX": 244, "legendY": 202}}
          }
        },
        {
          "mark": {"type": "line", "opacity": 0},
          "encoding": {
            "x": {"field": "x", "type": "quantitative", "axis": {"orient": "top", "labels": false, "title": null, "values": [0,200,400,600,800,1000,1200,1400,1600]}},
            "y": {"field": "y", "type": "quantitative", "axis": {"orient": "right", "labels": false, "title": null, "values": [0,0.2,0.4,0.6,0.8,1]}}
          }
        }
      ],
      "resolve": {"axis": {"x": "independent", "y": "independent"}}
    },
    {
      "width": 346, "height": 271,
      "data": {"name": "c"},
      "title": {"text": "c)", "dx": -33, "offset": 24},
      "layer": [
        {
          "mark": {"type": "line", "color": "black", "strokeWidth": 2},
          "encoding": {
            "x": {"field": "x", "type": "quantitative", "scale": {"domain": [0, 1600], "nice": false}, "axis": {"title": "time days", "values": [0,200,400,600,800,1000,1200,1400,1600], "format": "d"}},
            "y": {"field": "y", "type": "quantitative", "scale": {"domain": [0, 1], "nice": false}, "axis": {"title": "ShEn", "values": [0,0.2,0.4,0.6,0.8,1], "format": ".1~f"}},
            "strokeDash": {"field": "s", "type": "nominal", "scale": {"domain": ["ShEn", "uanusd"], "range": [[7,4],[1,0]]}, "legend": {"legendX": 53, "legendY": 196}}
          }
        },
        {
          "mark": {"type": "line", "opacity": 0},
          "encoding": {
            "x": {"field": "x", "type": "quantitative", "axis": {"orient": "top", "labels": false, "title": null, "values": [0,200,400,600,800,1000,1200,1400,1600]}},
            "y": {"field": "y", "type": "quantitative", "axis": {"orient": "right", "labels": false, "title": null, "values": [0,0.2,0.4,0.6,0.8,1]}}
          }
        }
      ],
      "resolve": {"axis": {"x": "independent", "y": "independent"}}
    },
    {
      "width": 334, "height": 260,
      "data": {"name": "d"},
      "title": {"text": "d)", "dx": 10, "offset": 31},
      "layer": [
        {
          "mark": {"type": "line", "color": "black", "strokeWidth": 2},
          "encoding": {
            "x": {"field": "x", "type": "quantitative", "scale": {"domain": [0, 1600], "nice": false}, "axis": {"title": "time days", "values": [0,200,400,600,800,1000,1200,1400,1600], "format": "d"}},
            "y": {"field": "y", "type": "quantitative", "scale": {"domain": [0, 1], "nice": false}, "axis": {"title": "ShEn", "values": [0,0.2,0.4,0.6,0.8,1], "format": ".1~f"}},
            "strokeDash": {"field": "s", "type": "nominal", "scale": {"domain": ["ShEn", "rubusd"], "range": [[7,4],[1,0]]}, "legend": {"legendX": 49, "legendY": 206}}
          }
        },
        {
          "mark": {"type": "line", "opacity": 0},
          "encoding": {
            "x": {"field": "x", "type": "quantitative", "axis": {"orient": "top", "labels": false, "title": null, "values": [0,200,400,600,800,1000,1200,1400,1600]}},
            "y": {"field": "y", "type": "quantitative", "axis": {"orient": "right", "labels": false, "title": null, "values": [0,0.2,0.4,0.6,0.8,1]}}
          }
        }
      ],
      "resolve": {"axis": {"x": "independent", "y": "independent"}}
    }
  ],
  "config": {
    "view": {"stroke": "black", "strokeWidth": 1},
    "axis": {
      "labelFont": "Liberation Serif", "labelFontSize": 12, "labelColor": "black", "labelOverlap": false, "labelFlush": false,
      "titleFont": "Liberation Sans", "titleFontSize": 14, "titleFontWeight": "bold", "titleColor": "black",
      "tickColor": "black", "tickSize": -5, "domainColor": "black", "grid": false, "labelPadding": 9
    },
    "axisX": {"titlePadding": 2, "labelPadding": 6},
    "axisY": {"titlePadding": 6},
    "title": {"font": "Liberation Serif", "fontSize": 34, "fontWeight": "bold", "color": "black", "orient": "bottom", "anchor": "middle", "baseline": "top"},
    "legend": {
      "orient": "none", "title": null, "strokeColor": "black", "fillColor": "white", "padding": 6,
      "labelFont": "Liberation Serif", "labelFontSize": 13, "labelColor": "black",
      "symbolType": "stroke", "symbolSize": 900, "symbolStrokeWidth": 1.8, "symbolStrokeColor": "black",
      "clipHeight": 14, "rowPadding": 3
    }
  }
}
